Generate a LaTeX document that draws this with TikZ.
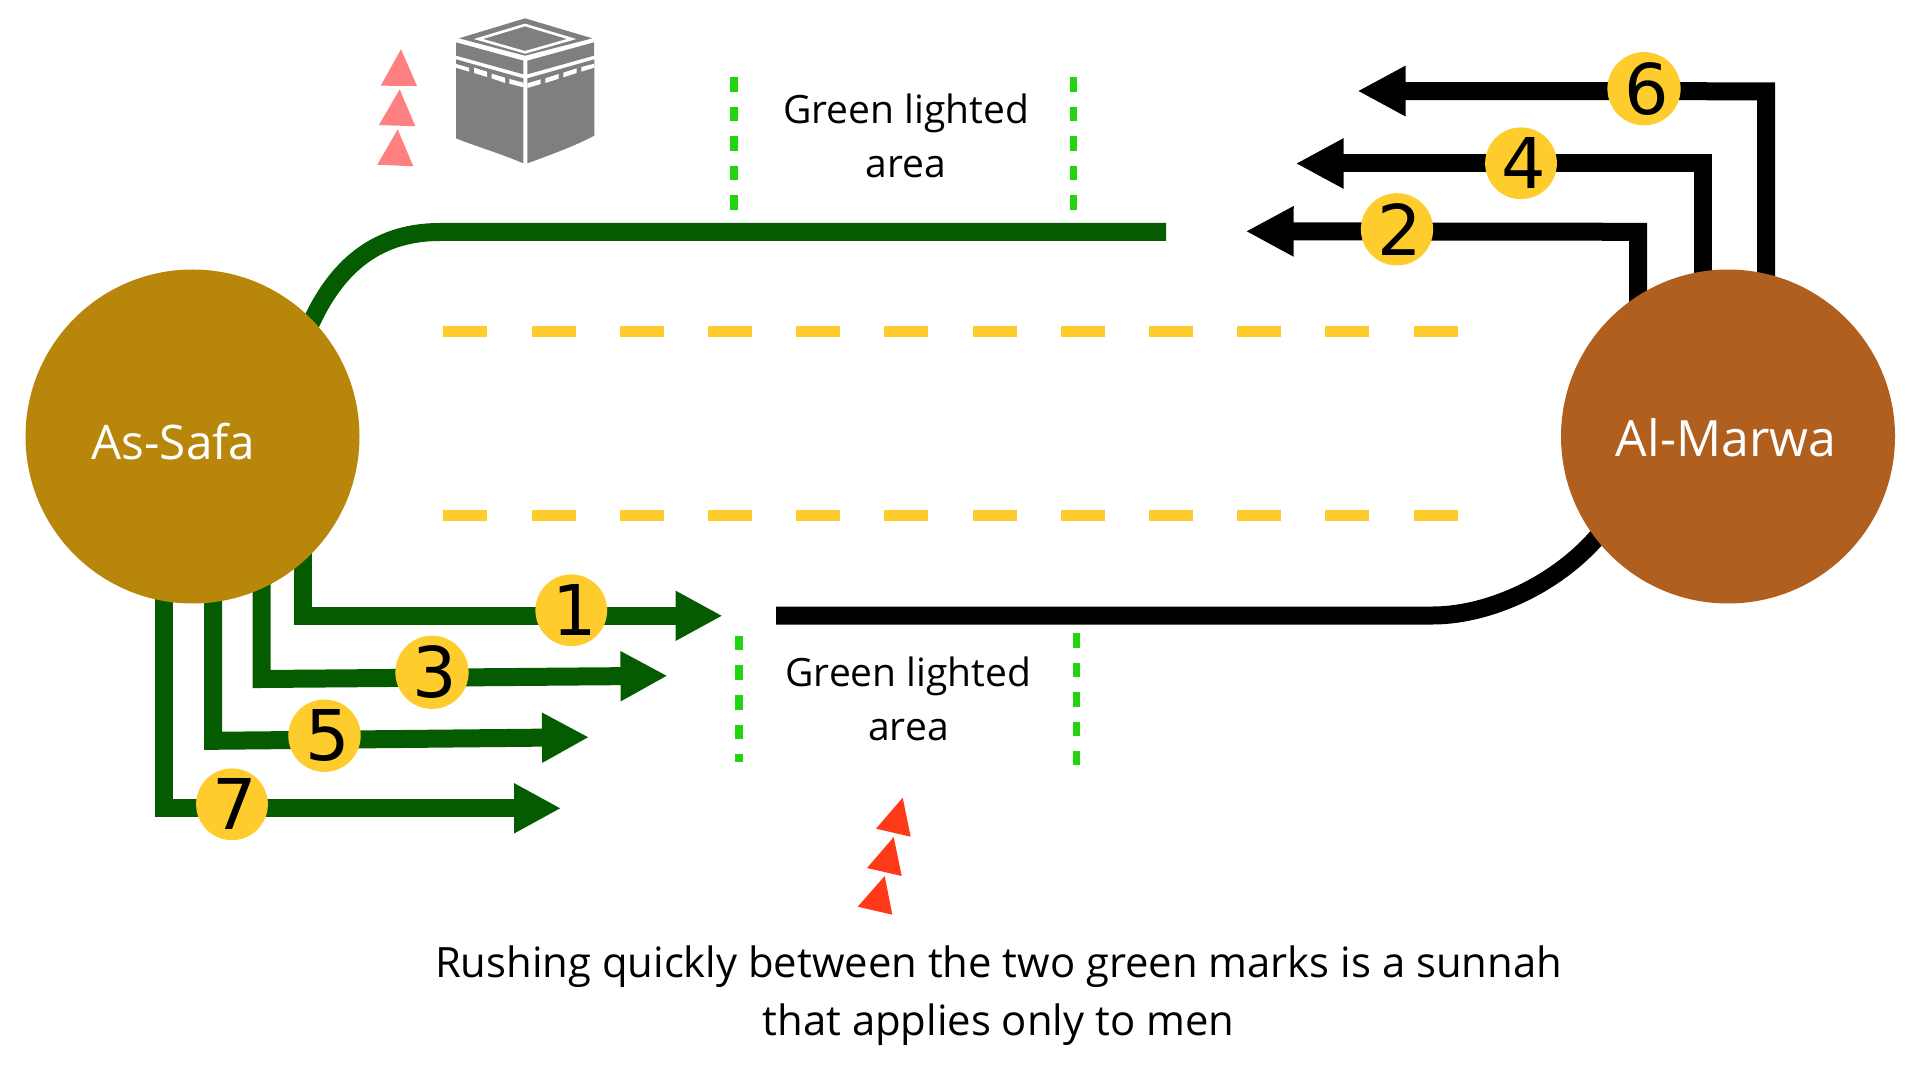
\documentclass[tikz,border=0pt]{standalone}
\usepackage{fontspec}
\setmainfont{Open Sans}
\newfontfamily\digitfont{DejaVu Sans}
\usetikzlibrary{arrows.meta,backgrounds}
\definecolor{pathgreen}{HTML}{055C00}
\definecolor{badgeyellow}{HTML}{FFCC2E}
\definecolor{safacol}{HTML}{B8860B}
\definecolor{marwacol}{HTML}{B05F1F}
\definecolor{markgreen}{HTML}{22D410}
\definecolor{pinktri}{HTML}{FF8080}
\definecolor{redtri}{HTML}{FF3A18}
\definecolor{kaabagray}{HTML}{7F7F7F}
\newcommand{\dg}[1]{\kern3pt\raisebox{-1pt}{#1}}
\tikzset{
  x=0.5pt,y=-0.5pt,
  hill/.style={circle,minimum size=167pt,inner sep=0pt},
  hilllabel/.style={text=white,inner sep=0pt},
  badge/.style={circle,fill=badgeyellow,minimum size=35.3pt,inner sep=0pt,font=\digitfont\fontsize{35}{35}\selectfont},
  greenwalk/.style={line width=9pt,draw=pathgreen,-{Triangle[length=23.5pt,width=23.5pt]}},
  blackwalk/.style={line width=9pt,draw=black,-{Triangle[length=24pt,width=23.5pt]}},
  lane/.style={line width=5.5pt,draw=badgeyellow,dash pattern=on 22pt off 22.1pt},
  greenmark/.style={line width=3.6pt,draw=markgreen,dash pattern=on 7.3pt off 7.5pt},
  caption/.style={font=\fontsize{19.5}{27}\selectfont,align=center,text=black,inner sep=0pt},
  bigcaption/.style={font=\fontsize{20.9}{29}\selectfont,align=center,text=black,inner sep=0pt},
  chevron/.style={fill=#1,draw=none},
  kaabaface/.style={fill=kaabagray,draw=none},
  kaabaslot/.style={fill=white,draw=none},
}
\begin{document}
\begin{tikzpicture}
\useasboundingbox (0,0) rectangle (1920,1074);

% hills
\node[hill,fill=safacol]  (safa)  at (192.5,436.5) {};
\node[hill,fill=marwacol] (marwa) at (1728,436.5) {};
\node[hilllabel,font=\fontsize{23.8}{28}\selectfont] (safalabel) at (173.5,442) {As-Safa};
\node[hilllabel,font=\fontsize{25}{28}\selectfont] (marwalabel) at (1726,438) {Al-Marwa};

% free ends
\coordinate (w1a) at (303.4,540);
\coordinate (w1b) at (303.4,615.8);
\coordinate (w1c) at (722.5,615.8);
\coordinate (w3a) at (261.5,560);
\coordinate (w3b) at (261.5,679);
\coordinate (w3c) at (667.5,675.8);
\coordinate (w5a) at (213,570);
\coordinate (w5b) at (213,740.8);
\coordinate (w5c) at (589,737.2);
\coordinate (w7a) at (164.2,570);
\coordinate (w7b) at (164.2,808.3);
\coordinate (w7c) at (561,808.3);
\coordinate (w2a) at (1638,330);
\coordinate (w2b) at (1638,231.8);
\coordinate (w2c) at (1245.7,231.3);
\coordinate (w4a) at (1702.5,300);
\coordinate (w4b) at (1702.5,163.5);
\coordinate (w4c) at (1295.7,163.5);
\coordinate (w6a) at (1766,300);
\coordinate (w6b) at (1766,91.3);
\coordinate (w6c) at (1357.5,91);

\begin{scope}[on background layer]
  % boundary curves
  \draw[line width=9pt,draw=pathgreen] (1166,232) -- (440,232)
     .. controls (365,232) and (325,280) .. (300,350);
  \draw[line width=9pt,draw=black] (776,615.5) -- (1433,615.5)
     .. controls (1490,615.5) and (1568,582) .. (1612,518);
  % lanes
  \draw[lane] (443.3,331.7) -- (1458,331.7);
  \draw[lane] (443.3,515) -- (1458,515);
  % green marks
  \draw[greenmark] (734,77) -- (734,211);
  \draw[greenmark] (1073.5,77) -- (1073.5,211);
  \draw[greenmark] (739,635.7) -- (739,762);
  \draw[greenmark] (1076.5,633) -- (1076.5,765);
  % walks
  \draw[blackwalk] (w2a) -- (w2b) -- (w2c);
  \draw[blackwalk] (w4a) -- (w4b) -- (w4c);
  \draw[blackwalk] (w6a) -- (w6b) -- (w6c);
  \draw[greenwalk] (w1a) -- (w1b) -- (w1c);
  \draw[greenwalk] (w3a) -- (w3b) -- (w3c);
  \draw[greenwalk] (w5a) -- (w5b) -- (w5c);
  \draw[greenwalk] (w7a) -- (w7b) -- (w7c);
\end{scope}

% badges
\node[badge] (b1) at (571.3,610.3) {\dg{1}};
\node[badge] (b2) at (1397,229.3) {\dg{2}};
\node[badge] (b3) at (432,672.3) {\dg{3}};
\node[badge] (b4) at (1521,163.3) {\dg{4}};
\node[badge] (b5) at (324.5,735.7) {\dg{5}};
\node[badge] (b6) at (1644,88.7) {\dg{6}};
\node[badge] (b7) at (232,804.3) {\dg{7}};

% captions
\node[caption] (gl1) at (906,136) {Green lighted\\area};
\node[caption] (gl2) at (908.5,698.5) {Green lighted\\area};
\node[bigcaption] (rush) at (998.5,995.5) {Rushing quickly between the two green marks is a sunnah\\that applies only to men};

% chevrons
\fill[chevron=pinktri] (401,49.3) -- (380.7,85.7) -- (417,86) -- cycle;
\fill[chevron=pinktri] (399.7,89.3) -- (379,125) -- (415.3,126.3) -- cycle;
\fill[chevron=pinktri] (397.7,129.3) -- (377.3,164.7) -- (413.3,166.3) -- cycle;
\fill[chevron=redtri] (902.7,797.7) -- (876,828.7) -- (910.7,836.7) -- cycle;
\fill[chevron=redtri] (893.7,837) -- (867,868) -- (901.7,876) -- cycle;
\fill[chevron=redtri] (884.7,876) -- (857.7,906.7) -- (892.3,914.7) -- cycle;

% Kaaba
\begin{scope}[shift={(360,0)},x=0.16667pt,y=-0.16667pt]
  \fill[kaabaface] (495,55) -- (697,115) -- (495,167) -- (297,115) -- cycle;
  \draw[white,line width=1.3pt,miter limit=10] (495,75) -- (635,117) -- (495,157) -- (355,117) -- cycle;
  \fill[kaabaface] (288,127) -- (490,182) -- (490,223) -- (288,167) -- cycle;
  \fill[kaabaface] (502,182) -- (702,127) -- (702,167) -- (502,223) -- cycle;
  \fill[kaabaface] (288,178) -- (490,235) -- (490,490) .. controls (420,460) and (350,440) .. (288,415) -- cycle;
  \fill[kaabaface] (502,235) -- (703,178) -- (703,407) .. controls (640,440) and (570,465) .. (502,490) -- cycle;
  \fill[kaabaslot] (288,192) -- (327,203) -- (327,215) -- (288,203) -- cycle;
  \fill[kaabaslot] (342,203) -- (381,215) -- (381,231) -- (342,219) -- cycle;
  \fill[kaabaslot] (395,221) -- (435,233) -- (435,249) -- (395,235) -- cycle;
  \fill[kaabaslot] (448,237) -- (490,248) -- (490,262) -- (448,251) -- cycle;
  \fill[kaabaslot] (502,250) -- (542,238) -- (542,252) -- (502,264) -- cycle;
  \fill[kaabaslot] (556,235) -- (596,222) -- (596,236) -- (556,249) -- cycle;
  \fill[kaabaslot] (610,218) -- (650,205) -- (650,219) -- (610,232) -- cycle;
  \fill[kaabaslot] (664,201) -- (703,191) -- (703,203) -- (664,215) -- cycle;
\end{scope}
\end{tikzpicture}
\end{document}
